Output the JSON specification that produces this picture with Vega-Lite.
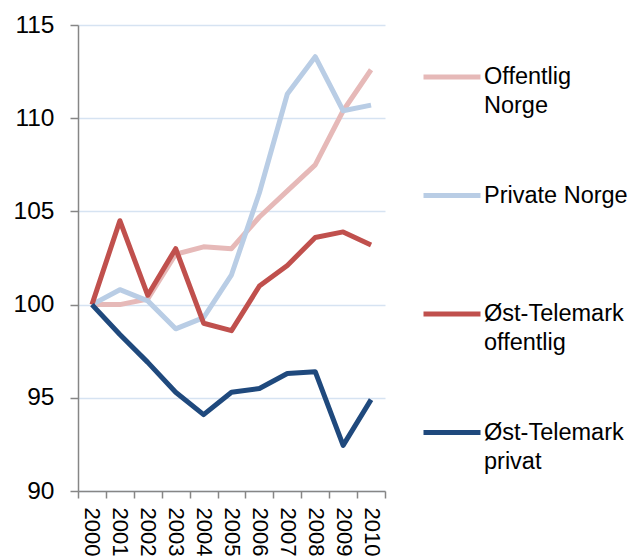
{
  "$schema": "https://vega.github.io/schema/vega-lite/v6.json",
  "autosize": "none",
  "padding": {"left": 78, "top": 25, "right": 245, "bottom": 68},
  "width": 307,
  "height": 466,
  "background": "white",
  "config": {
    "font": "Liberation Sans",
    "view": {"stroke": null},
    "style": {"guide-label": {"lineHeight": 29}}
  },
  "data": {
    "values": [
      {"year": "2000", "series": "Offentlig Norge", "value": 100},
      {"year": "2001", "series": "Offentlig Norge", "value": 100.0},
      {"year": "2002", "series": "Offentlig Norge", "value": 100.3},
      {"year": "2003", "series": "Offentlig Norge", "value": 102.7},
      {"year": "2004", "series": "Offentlig Norge", "value": 103.1},
      {"year": "2005", "series": "Offentlig Norge", "value": 103.0},
      {"year": "2006", "series": "Offentlig Norge", "value": 104.7},
      {"year": "2007", "series": "Offentlig Norge", "value": 106.1},
      {"year": "2008", "series": "Offentlig Norge", "value": 107.5},
      {"year": "2009", "series": "Offentlig Norge", "value": 110.4},
      {"year": "2010", "series": "Offentlig Norge", "value": 112.6},
      {"year": "2000", "series": "Private Norge", "value": 100},
      {"year": "2001", "series": "Private Norge", "value": 100.8},
      {"year": "2002", "series": "Private Norge", "value": 100.2},
      {"year": "2003", "series": "Private Norge", "value": 98.7},
      {"year": "2004", "series": "Private Norge", "value": 99.3},
      {"year": "2005", "series": "Private Norge", "value": 101.6},
      {"year": "2006", "series": "Private Norge", "value": 106.0},
      {"year": "2007", "series": "Private Norge", "value": 111.3},
      {"year": "2008", "series": "Private Norge", "value": 113.3},
      {"year": "2009", "series": "Private Norge", "value": 110.4},
      {"year": "2010", "series": "Private Norge", "value": 110.7},
      {"year": "2000", "series": "Øst-Telemark offentlig", "value": 100},
      {"year": "2001", "series": "Øst-Telemark offentlig", "value": 104.5},
      {"year": "2002", "series": "Øst-Telemark offentlig", "value": 100.5},
      {"year": "2003", "series": "Øst-Telemark offentlig", "value": 103.0},
      {"year": "2004", "series": "Øst-Telemark offentlig", "value": 99.0},
      {"year": "2005", "series": "Øst-Telemark offentlig", "value": 98.6},
      {"year": "2006", "series": "Øst-Telemark offentlig", "value": 101.0},
      {"year": "2007", "series": "Øst-Telemark offentlig", "value": 102.1},
      {"year": "2008", "series": "Øst-Telemark offentlig", "value": 103.6},
      {"year": "2009", "series": "Øst-Telemark offentlig", "value": 103.9},
      {"year": "2010", "series": "Øst-Telemark offentlig", "value": 103.2},
      {"year": "2000", "series": "Øst-Telemark privat", "value": 100},
      {"year": "2001", "series": "Øst-Telemark privat", "value": 98.4},
      {"year": "2002", "series": "Øst-Telemark privat", "value": 96.9},
      {"year": "2003", "series": "Øst-Telemark privat", "value": 95.3},
      {"year": "2004", "series": "Øst-Telemark privat", "value": 94.1},
      {"year": "2005", "series": "Øst-Telemark privat", "value": 95.3},
      {"year": "2006", "series": "Øst-Telemark privat", "value": 95.5},
      {"year": "2007", "series": "Øst-Telemark privat", "value": 96.3},
      {"year": "2008", "series": "Øst-Telemark privat", "value": 96.4},
      {"year": "2009", "series": "Øst-Telemark privat", "value": 92.45},
      {"year": "2010", "series": "Øst-Telemark privat", "value": 94.9}
    ]
  },
  "mark": {"type": "line", "strokeWidth": 5, "strokeJoin": "round"},
  "encoding": {
    "x": {
      "field": "year",
      "type": "ordinal",
      "scale": {"type": "band", "paddingInner": 0, "paddingOuter": 0},
      "axis": {
        "title": null,
        "labelAngle": 90,
        "labelFontSize": 22,
        "labelColor": "#000000",
        "labelPadding": 9,
        "tickBand": "extent",
        "tickSize": 7,
        "tickColor": "#868686",
        "tickWidth": 1.5,
        "domainColor": "#868686",
        "domainWidth": 1.5,
        "grid": false
      }
    },
    "y": {
      "field": "value",
      "type": "quantitative",
      "scale": {"domain": [90, 115], "nice": false, "zero": false},
      "axis": {
        "title": null,
        "values": [90, 95, 100, 105, 110, 115],
        "labelFontSize": 24.5,
        "labelColor": "#000000",
        "labelPadding": 16,
        "tickSize": 8,
        "tickColor": "#868686",
        "tickWidth": 1.5,
        "domainColor": "#868686",
        "domainWidth": 1.5,
        "grid": true,
        "gridColor": "#D6E3F2",
        "gridWidth": 1.5
      }
    },
    "color": {
      "field": "series",
      "type": "nominal",
      "scale": {
        "domain": ["Offentlig Norge", "Private Norge", "Øst-Telemark offentlig", "Øst-Telemark privat"],
        "range": ["#E6B9B8", "#B9CDE5", "#C0504D", "#1F497D"]
      },
      "legend": {
        "title": null,
        "orient": "none",
        "legendX": 343,
        "legendY": 21,
        "symbolType": "stroke",
        "symbolSize": 3249,
        "symbolStrokeWidth": 5,
        "labelFontSize": 23.5,
        "labelColor": "#000000",
        "labelOffset": 1,
        "labelLimit": 300,
        "gridAlign": "all",
        "rowPadding": 46.5,
        "labelExpr": "datum.label == 'Private Norge' ? datum.label : split(datum.label, ' ')"
      }
    }
  }
}
